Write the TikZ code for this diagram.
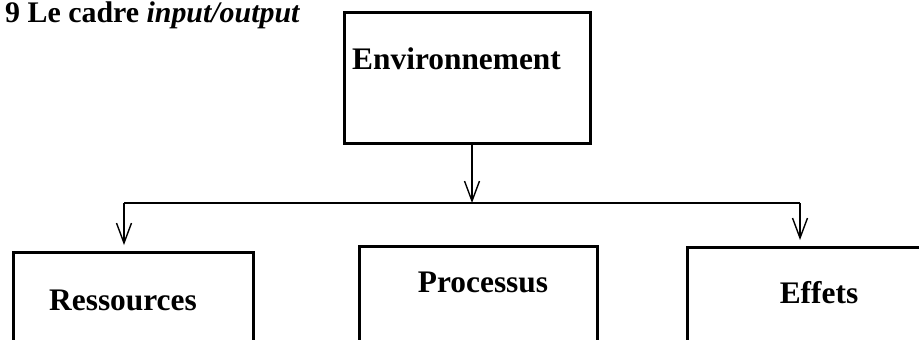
\documentclass[tikz,border=0pt]{standalone}
\usepackage{fontspec}
\setmainfont{Liberation Serif}
\usetikzlibrary{arrows.meta}

\tikzset{
  box/.style={draw, line width=2.6bp, rectangle, inner sep=0pt},
  lbl/.style={font=\fontsize{31.5}{36}\selectfont\bfseries, inner sep=0pt},
  ttl/.style={font=\fontsize{30}{35}\selectfont\bfseries, inner sep=0pt},
  arr/.style={line width=1.8bp, -{Straight Barb[length=20bp, width=15bp, line width=1.4bp]}},
  link/.style={line width=2.2bp}
}

\begin{document}
\begin{tikzpicture}[x=1bp, y=-1bp]

% ============================================================
%  frame  --  919 x 339, pixel coordinates, y down
% ============================================================
\useasboundingbox (0,0) rectangle (919,339);
\clip (0,0) rectangle (919,339);

% Title
\node[ttl, anchor=base west] (title) at (5,22) {9 Le cadre \textit{input/output}};

% ---- top box ----
% Env: (343, 11) to (589, 142)
\node[box, anchor=north west, minimum width=246bp, minimum height=131bp] (env) at (343,11) {};
\node[lbl, anchor=base west] (envT) at (352,69) {Environnement};

% ---- bottom boxes (cut by the lower edge) ----
\node[box, anchor=north west, minimum width=240bp, minimum height=160bp] (res) at (12,251) {};
\node[box, anchor=north west, minimum width=238bp, minimum height=160bp] (proc) at (358,245) {};
\node[box, anchor=north west, minimum width=300bp, minimum height=160bp] (eff) at (686,246) {};

\node[lbl, anchor=base] (resT) at (123,310) {Ressources};
\node[lbl, anchor=base] (procT) at (483,292) {Processus};
\node[lbl, anchor=base] (effT) at (819,303) {Effets};

% ---- distribution line at y = 203 ----
\coordinate (busL) at (124,203);
\coordinate (busR) at (800,203);
\coordinate (busM) at (472,203);

\draw[link] (busL) -- (busR);
\draw[arr] (env.south -| busM) -- (busM);
\draw[arr, shorten >=6bp] (busL) -- (busL |- res.north);
\draw[arr, shorten >=6bp] (busR) -- (busR |- eff.north);

\end{tikzpicture}
\end{document}
